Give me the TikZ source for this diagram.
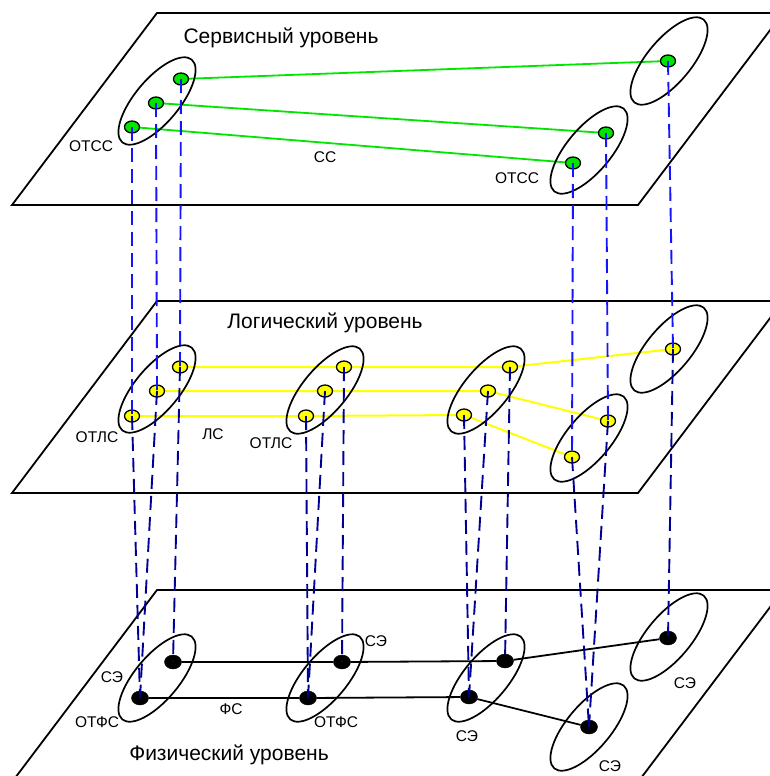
\documentclass[tikz,border=0pt]{standalone}
\usepackage{fontspec}
\setmainfont{Liberation Sans}
\usetikzlibrary{shapes.geometric}
\pgfdeclarelayer{bg}
\pgfdeclarelayer{fg}
\pgfsetlayers{bg,main,fg}
\definecolor{dotgreen}{RGB}{0,230,0}
\definecolor{linegreen}{RGB}{0,230,0}
\definecolor{dotyellow}{RGB}{255,255,0}
\definecolor{upblue}{RGB}{20,20,255}
\definecolor{lowblue}{RGB}{0,0,150}
\tikzset{
  plane/.style={draw=black, line width=1.8pt},
  grp/.style={draw=black, ellipse, line width=1.7pt, minimum width=108pt, minimum height=44pt, inner sep=0pt, rotate=50},
  gdot/.style={draw=black, ellipse, line width=1.3pt, fill=dotgreen, minimum width=15pt, minimum height=12pt, inner sep=0pt},
  ydot/.style={draw=black, ellipse, line width=1.3pt, fill=dotyellow, minimum width=15pt, minimum height=12pt, inner sep=0pt},
  bdot/.style={draw=black, ellipse, fill=black, minimum width=17pt, minimum height=14pt, inner sep=0pt},
  gline/.style={draw=linegreen, line width=1.8pt},
  yline/.style={draw=dotyellow, line width=2pt},
  kline/.style={draw=black, line width=1.8pt},
  upv/.style={draw=upblue, line width=1.9pt, dash pattern=on 14pt off 7pt},
  lowv/.style={draw=lowblue, line width=1.9pt, dash pattern=on 14pt off 7pt},
  big/.style={font=\fontsize{21}{25}\selectfont, inner sep=0pt},
  lbl/.style={font=\fontsize{15.5}{18}\selectfont, inner sep=0pt}
}
\begin{document}
\begin{tikzpicture}[x=1pt,y=-1pt]
\useasboundingbox (0,0) rectangle (770,776);
\clip (0,0) rectangle (770,776);
% planes
\draw[plane] (12,205) -- (638,205) -- (783,13) -- (157,13) -- cycle;
\draw[plane] (12,493) -- (638,493) -- (783,301) -- (157,301) -- cycle;
\draw[plane] (12,782) -- (638,782) -- (783,590) -- (157,590) -- cycle;
% group ellipses - service level
\node[grp] (E1) at (157,101) {};
\node[grp] (E2) at (669,61) {};
\node[grp] (E3) at (589,150) {};
% logical level
\node[grp] (M1) at (157,389) {};
\node[grp] (M2) at (325,390) {};
\node[grp] (M3) at (486,390) {};
\node[grp] (M4) at (669,349) {};
\node[grp] (M5) at (589,438) {};
% physical level
\node[grp] (B1) at (157,678) {};
\node[grp] (B2) at (325,678) {};
\node[grp] (B3) at (486,678) {};
\node[grp] (B4) at (669,637) {};
\node[grp] (B5) at (589,727) {};
% dots - service
\node[gdot] (t1) at (181,79) {};
\node[gdot] (t2) at (156,103) {};
\node[gdot] (t3) at (132,127) {};
\node[gdot] (t4) at (668,61) {};
\node[gdot] (t5) at (606,133) {};
\node[gdot] (t6) at (573,163) {};
% dots - logical
\node[ydot] (l1) at (180,367) {};
\node[ydot] (l2) at (157,391) {};
\node[ydot] (l3) at (132,416) {};
\node[ydot] (l4) at (344,367) {};
\node[ydot] (l5) at (325,391) {};
\node[ydot] (l6) at (306,416) {};
\node[ydot] (l7) at (510,367) {};
\node[ydot] (l8) at (488,391) {};
\node[ydot] (l9) at (464,415) {};
\node[ydot] (l10) at (673,349) {};
\node[ydot] (l11) at (608,421) {};
\node[ydot] (l12) at (572,457) {};
% dots - physical
\node[bdot] (p1) at (173,662) {};
\node[bdot] (p2) at (140,698) {};
\node[bdot] (p3) at (342,662) {};
\node[bdot] (p4) at (308,698) {};
\node[bdot] (p5) at (505,661) {};
\node[bdot] (p6) at (469,697) {};
\node[bdot] (p7) at (668,638) {};
\node[bdot] (p8) at (589,727) {};
% connections (behind dots)
\begin{pgfonlayer}{bg}
\draw[gline] (t1) -- (t4);
\draw[gline] (t2) -- (t5);
\draw[gline] (t3) -- (t6);
\draw[yline] (l1) -- (l4) -- (l7) -- (l10);
\draw[yline] (l2) -- (l5) -- (l8) -- (l11);
\draw[yline] (l3) -- (l6) -- (l9) -- (l12);
\draw[kline] (p1) -- (p3) -- (p5) -- (p7);
\draw[kline] (p2) -- (p4) -- (p6) -- (p8);
\end{pgfonlayer}
% vertical dashed links (on top)
\begin{pgfonlayer}{fg}
\draw[upv] (t1.center) -- (l1.center);
\draw[upv] (t2.center) -- (l2.center);
\draw[upv] (t3.center) -- (l3.center);
\draw[upv] (t4.center) -- (l10.center);
\draw[upv] (t5.center) -- (l11.center);
\draw[upv] (t6.center) -- (l12.center);
\draw[lowv] (l1.center) -- (p1.center);
\draw[lowv] (l2.center) -- (p2.center);
\draw[lowv] (l3.center) -- (p2.center);
\draw[lowv] (l4.center) -- (p3.center);
\draw[lowv] (l5.center) -- (p4.center);
\draw[lowv] (l6.center) -- (p4.center);
\draw[lowv] (l7.center) -- (p5.center);
\draw[lowv] (l8.center) -- (p6.center);
\draw[lowv] (l9.center) -- (p6.center);
\draw[lowv] (l10.center) -- (p7.center);
\draw[lowv] (l11.center) -- (p8.center);
\draw[lowv] (l12.center) -- (p8.center);
\end{pgfonlayer}
% labels
\node[big] (tS) at (281,38) {Сервисный уровень};
\node[big] (tL) at (325,323) {Логический уровень};
\node[big] (tF) at (229,755) {Физический уровень};
\node[lbl] (a1) at (91,146) {ОТСС};
\node[lbl] (a2) at (517,178) {ОТСС};
\node[lbl] (a3) at (325,157) {СС};
\node[lbl] (b1) at (97,437) {ОТЛС};
\node[lbl] (b2) at (213,434) {ЛС};
\node[lbl] (b3) at (271,443) {ОТЛС};
\node[lbl] (c1) at (112,677) {СЭ};
\node[lbl] (c2) at (97,722) {ОТФС};
\node[lbl] (c3) at (231,709) {ФС};
\node[lbl] (c4) at (336,722) {ОТФС};
\node[lbl] (c5) at (376,641) {СЭ};
\node[lbl] (c6) at (467,736) {СЭ};
\node[lbl] (c7) at (685,683) {СЭ};
\node[lbl] (c8) at (610,766) {СЭ};
\end{tikzpicture}
\end{document}
